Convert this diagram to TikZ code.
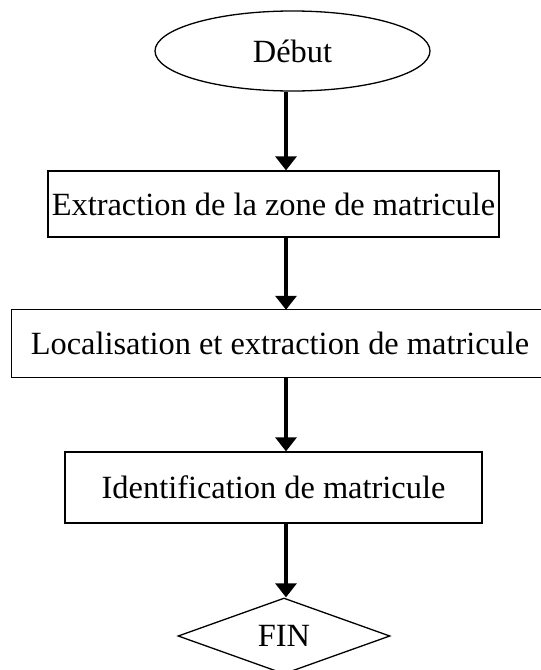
\documentclass[tikz,border=0pt]{standalone}
\usepackage{fontspec}
\setmainfont{Liberation Serif}
\usetikzlibrary{arrows.meta,shapes.geometric}
\begin{document}
\begin{tikzpicture}[x=1pt,y=-1pt,
  every node/.style={font=\fontsize{32.4}{38}\selectfont, inner sep=0pt},
  boxstyle/.style={draw=black, line width=1.3pt, rectangle},
  flowarrow/.style={draw=black, line width=3.2pt, -{Triangle[width=21pt,length=14pt]}}
]
\useasboundingbox (0,0) rectangle (541,670);
\clip (0,0) rectangle (541,670);
\coordinate (xref) at (286,0);
\node[draw=black, line width=1.3pt, ellipse, minimum width=275pt, minimum height=80pt] (start) at (292.5,51) {Début};
\node[boxstyle, minimum width=451pt, minimum height=66pt] (b1) at (273.5,204) {Extraction de la zone de matricule};
\node[rectangle, minimum width=536pt, minimum height=67pt] (b2) at (280,343.5) {Localisation et extraction de matricule};
\draw[boxstyle] (b2.south west) rectangle ([xshift=30pt]b2.north east);
\node[boxstyle, minimum width=417pt, minimum height=71pt] (b3) at (273.5,487.5) {Identification de matricule};
\node[draw=black, line width=1.3pt, diamond, aspect=2.8, minimum width=212pt, minimum height=76pt, inner sep=0pt] (fin) at (284,636) {FIN};
\draw[flowarrow] (start.south -| xref) -- (b1.north -| xref);
\draw[flowarrow] (b1.south -| xref) -- (b2.north -| xref);
\draw[flowarrow] (b2.south -| xref) -- (b3.north -| xref);
\draw[flowarrow] (b3.south -| xref) -- (fin.north -| xref);
\end{tikzpicture}
\end{document}
